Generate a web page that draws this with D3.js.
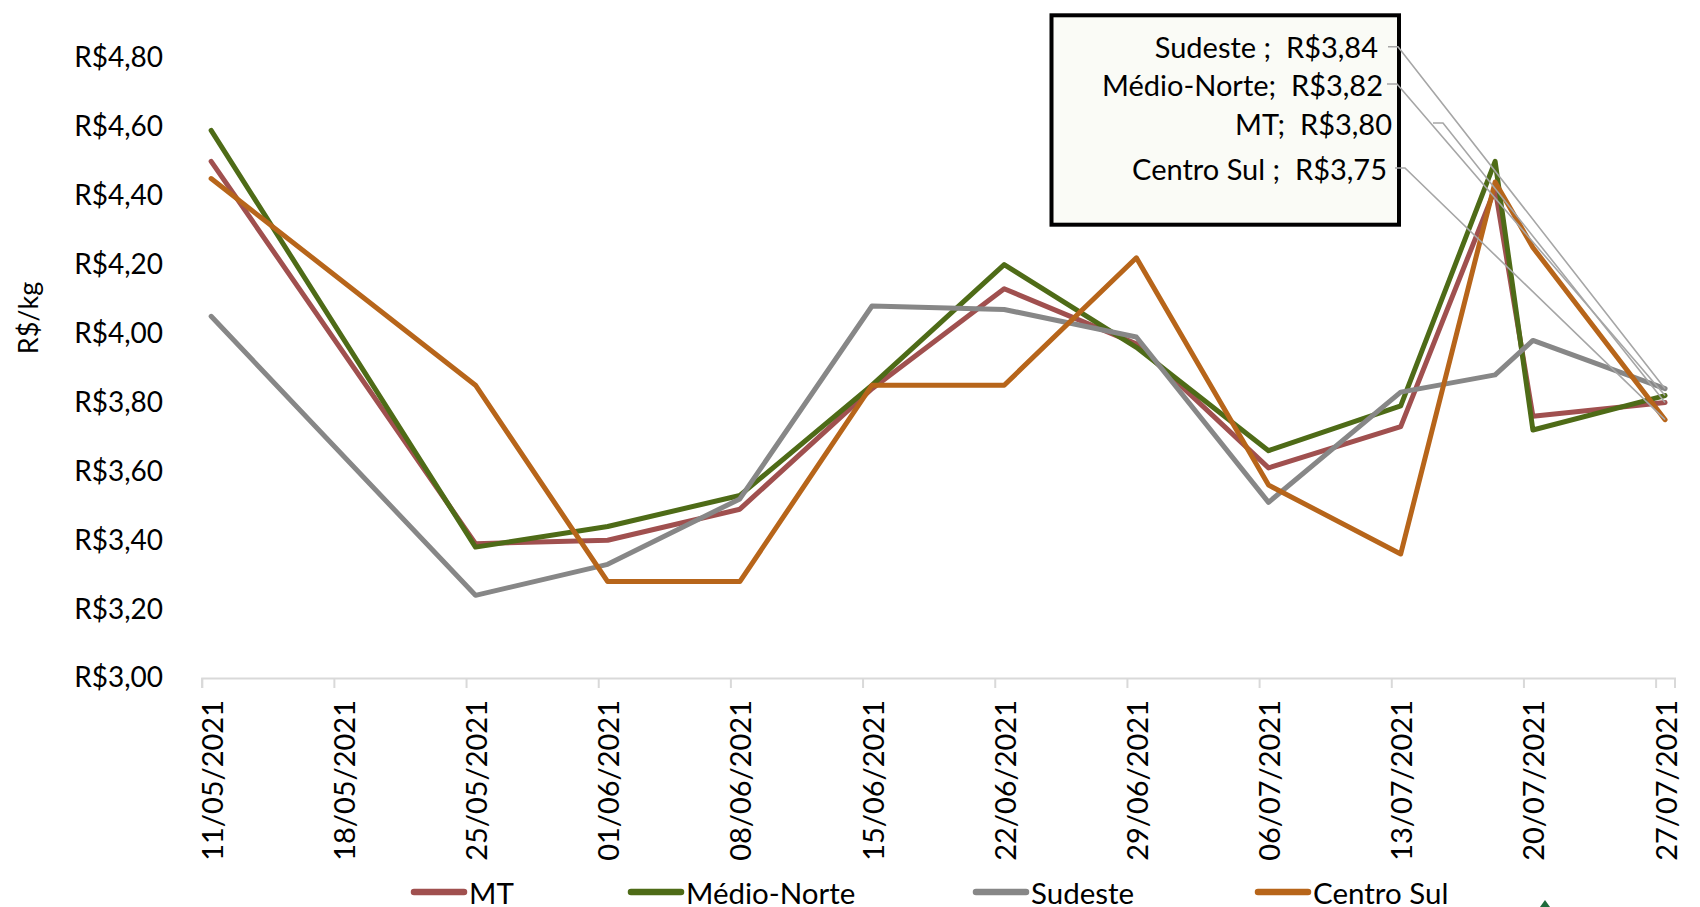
<!DOCTYPE html>
<html>
<head>
<meta charset="utf-8">
<script src="https://cdn.jsdelivr.net/npm/d3@7"></script>
<style>
  html, body { margin: 0; padding: 0; background: #ffffff; }
  svg { display: block; }
  text { font-family: Lato, "Open Sans", sans-serif; fill: #000; }
</style>
</head>
<body>
<svg id="chart" width="1700" height="907"></svg>
<script>
// ---------- data ----------
const dates = ["11/05/2021","25/05/2021","01/06/2021","08/06/2021","15/06/2021","22/06/2021",
               "29/06/2021","06/07/2021","13/07/2021","18/07/2021","20/07/2021","27/07/2021"];
const seriesNames = ["MT", "Médio-Norte", "Sudeste", "Centro Sul"];
const mtValues         = [4.50, 3.39, 3.40, 3.49, 3.84, 4.13, 3.97, 3.61, 3.73, 4.42, 3.76, 3.80];
const medioNorteValues = [4.59, 3.38, 3.44, 3.53, 3.85, 4.20, 3.96, 3.66, 3.79, 4.50, 3.72, 3.82];
const sudesteValues    = [4.05, 3.24, 3.33, 3.52, 4.08, 4.07, 3.99, 3.51, 3.83, 3.88, 3.98, 3.84];
const centroSulValues  = [4.45, 3.85, 3.28, 3.28, 3.85, 3.85, 4.22, 3.56, 3.36, 4.44, 4.25, 3.75];
const tickLabels = ["11/05/2021","18/05/2021","25/05/2021","01/06/2021","08/06/2021","15/06/2021",
                    "22/06/2021","29/06/2021","06/07/2021","13/07/2021","20/07/2021","27/07/2021"];
const yTicks = [3.0, 3.2, 3.4, 3.6, 3.8, 4.0, 4.2, 4.4, 4.6, 4.8];
const yTitle = "R$/kg";
// data-label box: order top to bottom (series index), prefixes as in the original labels
const labelOrder = [2, 1, 0, 3];
const labelPrefixes = ["MT;", "Médio-Norte;", "Sudeste ;", "Centro Sul ;"];

const colors = ["#A0504F", "#4E6B17", "#878787", "#B7651A"];
const allValues = [mtValues, medioNorteValues, sudesteValues, centroSulValues];

// ---------- setup ----------
const parse = d3.timeParse("%d/%m/%Y");
const svg = d3.select("#chart");

const x = d3.scaleTime()
  .domain([parse("11/05/2021"), parse("28/07/2021")])
  .range([201.7, 1674.5]);
const y = d3.scaleLinear().domain([3.0, 4.8]).range([678, 58]);
const mid = d => d3.timeHour.offset(parse(d), 12);

const fmtVal = v => "R$" + d3.format(".2f")(v).replace(".", ",");

// ---------- y axis (labels only) ----------
const yAxis = d3.axisLeft(y).tickValues(yTicks).tickSize(0).tickPadding(0).tickFormat(fmtVal);
const yg = svg.append("g").attr("transform", "translate(163,0)").call(yAxis);
yg.select(".domain").remove();
yg.selectAll("text").attr("font-size", 28).attr("font-family", "Lato").attr("fill", "#000");

// y title
svg.append("text")
  .attr("transform", "translate(27,318) rotate(-90)")
  .attr("text-anchor", "middle").attr("dominant-baseline", "central")
  .attr("font-size", 27).text(yTitle);

// ---------- x axis ----------
const xAxis = d3.axisBottom(x)
  .tickValues(tickLabels.map(parse))
  .tickSize(10).tickFormat("");
const xg = svg.append("g").attr("transform", "translate(0,678)").call(xAxis);
xg.select(".domain").attr("stroke", "#D9D9D9").attr("stroke-width", 2);
xg.selectAll(".tick line").attr("stroke", "#D9D9D9").attr("stroke-width", 2);

svg.append("g").selectAll("text").data(tickLabels).join("text")
  .attr("transform", d => `translate(${x(mid(d))},700) rotate(-90)`)
  .attr("text-anchor", "end").attr("dominant-baseline", "central")
  .attr("font-size", 29).text(d => d);

// ---------- lines ----------
const line = d3.line().x((d, i) => x(mid(dates[i]))).y(d => y(d));
svg.append("g").selectAll("path").data(allValues).join("path")
  .attr("d", d => line(d))
  .attr("fill", "none")
  .attr("stroke", (d, i) => colors[i])
  .attr("stroke-width", 5)
  .attr("stroke-linejoin", "round")
  .attr("stroke-linecap", "round");

// ---------- data-label box ----------
svg.append("rect")
  .attr("x", 1051.5).attr("y", 15.3).attr("width", 347.5).attr("height", 209.4)
  .attr("fill", "#FAFBF6").attr("stroke", "#000").attr("stroke-width", 4);

const labelPos = [ // per row: text end x, centre y, leader start x
  {tx: 1378, ty: 46.7, lx: 1388},
  {tx: 1383, ty: 84, lx: 1387},
  {tx: 1392, ty: 123, lx: 1433},
  {tx: 1387, ty: 168, lx: 1395}
];
const lastIdx = dates.length - 1;
labelOrder.forEach((si, row) => {
  const p = labelPos[row];
  const v = allValues[si][lastIdx];
  const px = x(mid(dates[lastIdx])), py = y(v);
  svg.append("polyline")
    .attr("points", `${p.lx},${p.ty} ${p.lx + 10},${p.ty} ${px},${py}`)
    .attr("fill", "none").attr("stroke", "#A6A6A6").attr("stroke-width", 1.6);
  svg.append("text")
    .attr("x", p.tx).attr("y", p.ty)
    .attr("text-anchor", "end").attr("dominant-baseline", "central")
    .attr("font-size", 29).style("white-space", "pre")
    .text(labelPrefixes[si] + "  " + fmtVal(v));
});

// ---------- legend ----------
const legendX = [412, 629, 974, 1256];
const lg = svg.append("g").selectAll("g").data(seriesNames).join("g")
  .attr("transform", (d, i) => `translate(${legendX[i]},892)`);
lg.append("line").attr("x1", 2).attr("x2", 52).attr("y1", 0).attr("y2", 0)
  .attr("stroke", (d, i) => colors[i]).attr("stroke-width", 6.5).attr("stroke-linecap", "round");
lg.append("text").attr("x", 57).attr("y", 0).attr("dominant-baseline", "central")
  .attr("font-size", 29.5).text(d => d);

// small logo fragment at bottom edge
svg.append("path").attr("d", "M1540,907 L1545,900 L1550,907 Z").attr("fill", "#1F6B3C");
</script>
</body>
</html>
